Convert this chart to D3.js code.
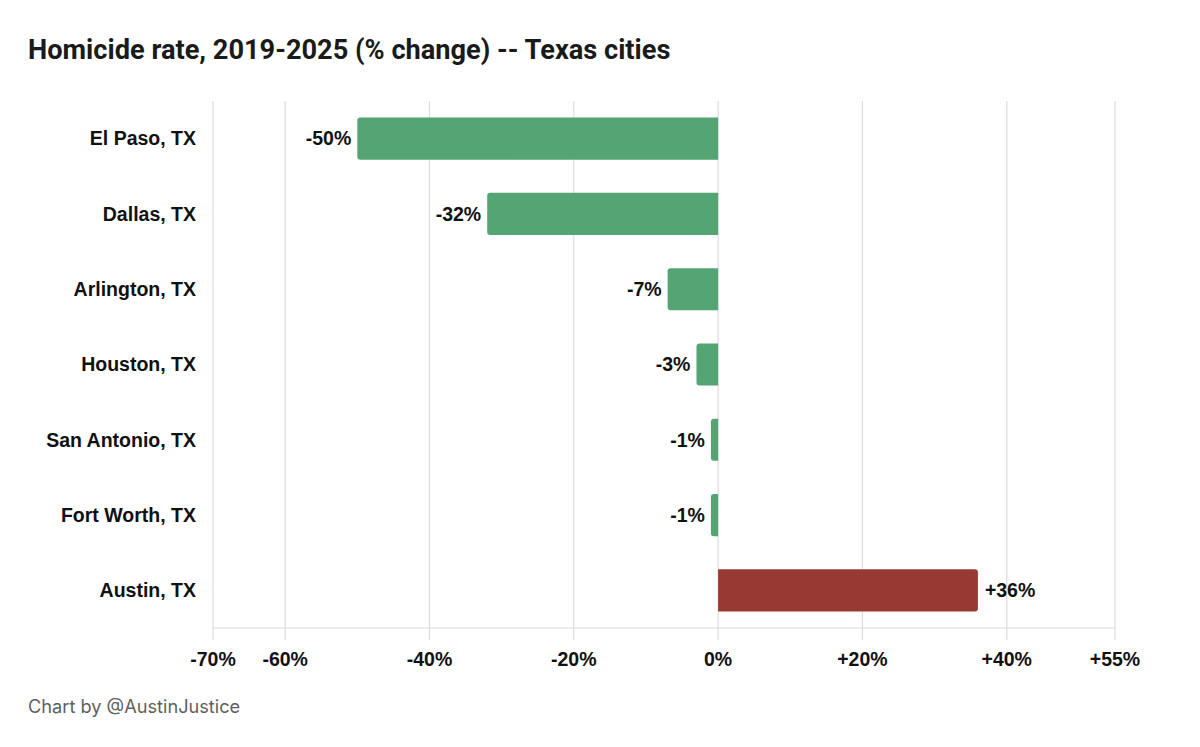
<!DOCTYPE html>
<html>
<head>
<meta charset="utf-8">
<script src="https://cdn.jsdelivr.net/npm/d3@7"></script>
<style>
  body { margin: 0; background: #fff; }
  svg { display: block; }
</style>
</head>
<body>
<svg id="chart" width="1200" height="747"></svg>
<script>
// Data
const cities = ["El Paso, TX", "Dallas, TX", "Arlington, TX", "Houston, TX",
                "San Antonio, TX", "Fort Worth, TX", "Austin, TX"];
const changes = [-50, -32, -7, -3, -1, -1, 36];
const tickValues = [-70, -60, -40, -20, 0, 20, 40, 55];

const svg = d3.select("#chart");
const labelFont = "'Liberation Sans', Arial, sans-serif";

// Plot area
const plotLeft = 213, plotRight = 1115, plotTop = 101, plotBottom = 628;

const x = d3.scaleLinear().domain([-70, 55]).range([plotLeft, plotRight]);
const y = d3.scaleBand().domain(cities).range([plotTop, plotBottom]).paddingInner(0.44).paddingOuter(0.22);

const fmt = v => (v > 0 ? "+" : "") + v + "%";

// Title
svg.append("text")
  .attr("x", 28).attr("y", 59)
  .attr("font-family", "Roboto, 'Noto Sans', sans-serif")
  .attr("font-weight", 700)
  .attr("font-size", 27.2)
  .attr("fill", "#1a1a1a")
  .text("Homicide rate, 2019-2025 (% change) -- Texas cities");

// Gridlines with tick extensions
svg.append("g").selectAll("line")
  .data(tickValues)
  .join("line")
  .attr("x1", d => x(d)).attr("x2", d => x(d))
  .attr("y1", plotTop).attr("y2", plotBottom + 12)
  .attr("stroke", "#dcdcdc")
  .attr("stroke-width", 1.2);

// Baseline axis
svg.append("line")
  .attr("x1", plotLeft).attr("x2", plotRight)
  .attr("y1", plotBottom).attr("y2", plotBottom)
  .attr("stroke", "#dcdcdc")
  .attr("stroke-width", 1.2);

// Tick labels
svg.append("g").selectAll("text")
  .data(tickValues)
  .join("text")
  .attr("x", d => x(d)).attr("y", 666)
  .attr("text-anchor", "middle")
  .attr("font-family", labelFont)
  .attr("font-weight", 700)
  .attr("font-size", 19.5)
  .attr("fill", "#111")
  .text(fmt);

// Category labels
svg.append("g").selectAll("text")
  .data(cities)
  .join("text")
  .attr("x", 196)
  .attr("y", d => y(d) + y.bandwidth() / 2)
  .attr("dy", "0.35em")
  .attr("text-anchor", "end")
  .attr("font-family", labelFont)
  .attr("font-weight", 700)
  .attr("font-size", 19.5)
  .attr("fill", "#111")
  .text(d => d);

// Bars with rounded outer end
function barPath(v, yy, h) {
  const x0 = x(0), x1 = x(v);
  const r = Math.min(3, Math.abs(x1 - x0) / 2);
  const s = v < 0 ? -1 : 1;
  return `M${x0},${yy}` +
    `L${x1 - s * r},${yy}` +
    `Q${x1},${yy} ${x1},${yy + r}` +
    `L${x1},${yy + h - r}` +
    `Q${x1},${yy + h} ${x1 - s * r},${yy + h}` +
    `L${x0},${yy + h}Z`;
}

const rows = cities.map((c, i) => ({ city: c, value: changes[i] }));

svg.append("g").selectAll("path")
  .data(rows)
  .join("path")
  .attr("d", d => barPath(d.value, y(d.city), y.bandwidth()))
  .attr("fill", d => d.value < 0 ? "#54a474" : "#983a34");

// Value labels
svg.append("g").selectAll("text")
  .data(rows)
  .join("text")
  .attr("x", d => x(d.value) + (d.value < 0 ? -6 : 7))
  .attr("y", d => y(d.city) + y.bandwidth() / 2)
  .attr("dy", "0.35em")
  .attr("text-anchor", d => d.value < 0 ? "end" : "start")
  .attr("font-family", labelFont)
  .attr("font-weight", 700)
  .attr("font-size", 19.5)
  .attr("fill", "#111")
  .text(d => fmt(d.value));

// Footer
svg.append("text")
  .attr("x", 28).attr("y", 713)
  .attr("font-family", "Inter, 'Noto Sans', sans-serif")
  .attr("font-size", 18.2)
  .attr("fill", "#5f5f5f")
  .text("Chart by @AustinJustice");
</script>
</body>
</html>
